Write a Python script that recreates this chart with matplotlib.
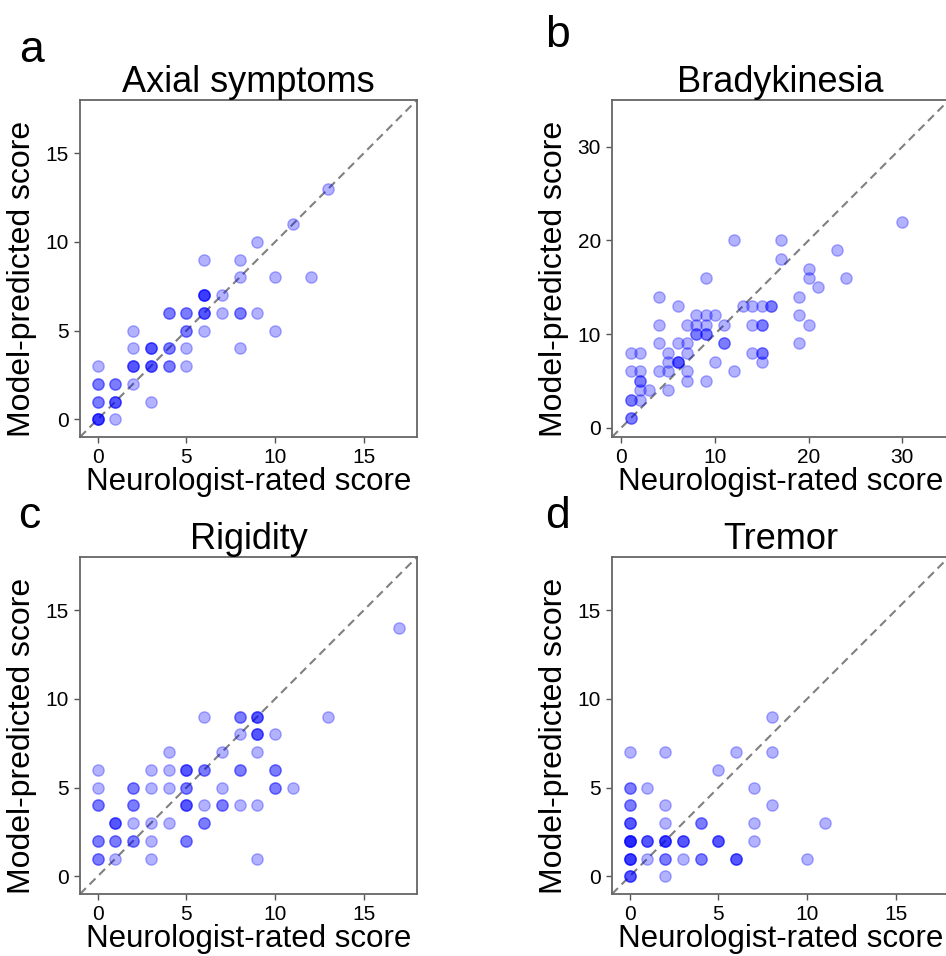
import numpy as np
import matplotlib
matplotlib.use("Agg")
import matplotlib.pyplot as plt

plt.rcParams['font.family'] = ['Liberation Sans', 'DejaVu Sans']

# (neurologist score, model score, number of overlapping patients)
axial_x = [0, 1, 0, 1, 3, 0, 1, 2, 0, 2, 3, 4, 5, 2, 3, 4, 5, 8, 2, 5, 6, 10,
           4, 5, 6, 7, 8, 9, 6, 7, 6, 8, 8, 10, 12, 9, 11, 13]
axial_y = [0, 0, 1, 1, 1, 2, 2, 2, 3, 3, 3, 3, 3, 4, 4, 4, 4, 4, 5, 5, 5, 5,
           6, 6, 6, 6, 6, 6, 7, 7, 9, 9, 8, 8, 8, 10, 11, 13]
axial_n = [4, 1, 2, 3, 1, 2, 2, 1, 1, 3, 3, 2, 1, 1, 3, 2, 1, 1, 1, 2, 1, 1,
           2, 2, 3, 1, 2, 1, 4, 1, 1, 1, 1, 1, 1, 1, 1, 1]

brady_x = [1, 1, 2, 1, 2, 1, 2, 2, 2, 3, 4, 5, 5, 5, 5, 4, 4, 4, 6, 6, 6, 7, 7,
           7, 7, 7, 8, 8, 8, 9, 9, 9, 9, 9, 10, 10, 11, 11, 12, 12, 13, 14, 14,
           14, 15, 16, 15, 15, 15, 17, 17, 19, 19, 19, 20, 20, 20, 21, 23, 24, 30]
brady_y = [1, 3, 3, 6, 6, 8, 8, 5, 4, 4, 6, 4, 6, 7, 8, 9, 11, 14, 7, 9, 13, 5, 6,
           8, 9, 11, 10, 11, 12, 10, 11, 12, 5, 16, 7, 12, 9, 11, 6, 20, 13, 13, 11,
           8, 13, 13, 11, 8, 7, 20, 18, 14, 12, 9, 17, 16, 11, 15, 19, 16, 22]
brady_n = [2, 2, 1, 1, 1, 1, 1, 2, 1, 1, 1, 1, 1, 1, 1, 1, 1, 1, 3, 1, 1, 1, 1,
           1, 1, 1, 2, 1, 1, 2, 1, 1, 1, 1, 1, 1, 2, 1, 1, 1, 1, 1, 1,
           1, 1, 2, 2, 2, 1, 1, 1, 1, 1, 1, 1, 1, 1, 1, 1, 1, 1]

rigid_x = [0, 1, 3, 9, 0, 1, 2, 3, 5, 1, 2, 3, 4, 6, 0, 2, 5, 6, 7, 8, 9, 0, 2,
           3, 4, 5, 7, 10, 11, 0, 3, 4, 5, 6, 8, 10, 4, 7, 9, 8, 9, 10, 6, 8, 9,
           13, 17]
rigid_y = [1, 1, 1, 1, 2, 2, 2, 2, 2, 3, 3, 3, 3, 3, 4, 4, 4, 4, 4, 4, 4, 5, 5,
           5, 5, 5, 5, 5, 5, 6, 6, 6, 6, 6, 6, 6, 7, 7, 7, 8, 8, 8, 9, 9, 9,
           9, 14]
rigid_n = [2, 1, 1, 1, 2, 2, 2, 1, 2, 3, 1, 1, 1, 2, 2, 2, 3, 1, 2, 1, 1, 1, 2,
           1, 1, 2, 1, 2, 1, 1, 1, 1, 3, 2, 2, 2, 1, 1, 1, 1, 3, 1, 1, 2, 3,
           1, 1]

tremor_x = [0, 2, 0, 1, 2, 3, 4, 6, 10, 0, 1, 2, 3, 5, 7, 0, 2, 4, 7, 11, 0, 2,
            8, 0, 1, 7, 5, 0, 2, 6, 8, 8]
tremor_y = [0, 0, 1, 1, 1, 1, 1, 1, 1, 2, 2, 2, 2, 2, 2, 3, 3, 3, 3, 3, 4, 4,
            4, 5, 5, 5, 6, 7, 7, 7, 7, 9]
tremor_n = [3, 1, 4, 1, 2, 1, 2, 3, 1, 5, 3, 4, 3, 3, 1, 3, 1, 2, 1, 1, 2, 1,
            1, 2, 1, 1, 1, 1, 1, 1, 1, 1]

panels = [
    ('a', 'Axial symptoms', axial_x, axial_y, axial_n, 18, [0, 5, 10, 15]),
    ('b', 'Bradykinesia', brady_x, brady_y, brady_n, 35, [0, 10, 20, 30]),
    ('c', 'Rigidity', rigid_x, rigid_y, rigid_n, 18, [0, 5, 10, 15]),
    ('d', 'Tremor', tremor_x, tremor_y, tremor_n, 18, [0, 5, 10, 15]),
]

W, H = 946, 956
fig = plt.figure(figsize=(W / 100, H / 100), dpi=100)

# axes boxes in pixels: left, top
boxes = [(80, 100), (612, 100), (80, 557), (612, 557)]
size = 337
letter_pos = [(19, 62), (545, 47), (18, 528), (545, 528)]

for (letter, title, xs, ys, ns, lim, ticks), (left, top), (lx, ly) in zip(panels, boxes, letter_pos):
    ax = fig.add_axes([left / W, 1 - (top + size) / H, size / W, size / H])
    px = np.repeat(xs, ns)
    py = np.repeat(ys, ns)
    ax.plot([-1, lim], [-1, lim], linestyle='--', color='gray', linewidth=1.5,
            dashes=(4, 2.5), zorder=1)
    ax.scatter(px, py, s=66, color='blue', alpha=0.3, linewidths=1, zorder=2)
    ax.set_xlim(-1, lim)
    ax.set_ylim(-1, lim)
    ax.set_xticks(ticks)
    ax.set_yticks(ticks)
    ax.tick_params(labelsize=15, length=4, width=1, color='#555555', pad=4)
    for sp in ax.spines.values():
        sp.set_color('#666666')
        sp.set_linewidth(1.3)
    ax.set_title(title, fontsize=26, pad=3)
    ax.set_xlabel('Neurologist-rated score', fontsize=22.5, labelpad=0)
    ax.set_ylabel('Model-predicted score', fontsize=23, labelpad=3)
    ax.yaxis.set_label_coords(-0.128, 0.47)
    fig.text(lx / W, 1 - ly / H, letter, fontsize=32, ha='left', va='baseline')

fig.savefig('out.png', dpi=100)
